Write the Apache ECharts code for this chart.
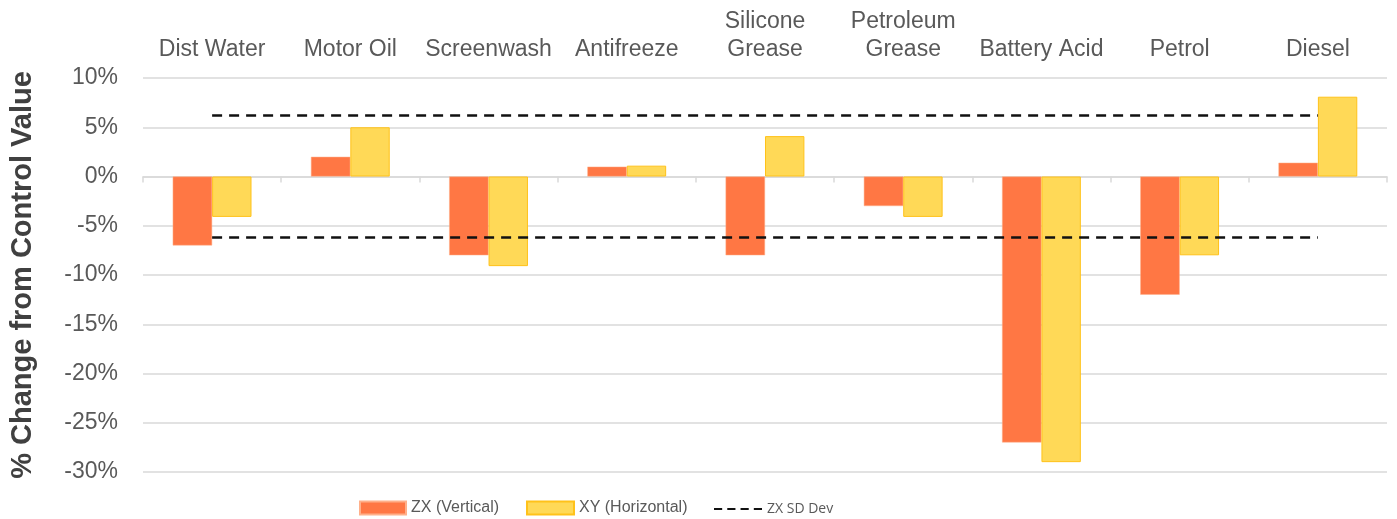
<!DOCTYPE html>
<html>
<head>
<meta charset="utf-8">
<script src="https://cdn.jsdelivr.net/npm/echarts@6/dist/echarts.min.js"></script>
<style>html,body{margin:0;padding:0;background:#fff}#c{width:1397px;height:519px}</style>
</head>
<body>
<div id="c"></div>
<script>
const categories = ['Dist Water', 'Motor Oil', 'Screenwash', 'Antifreeze', 'Silicone\nGrease', 'Petroleum\nGrease', 'Battery Acid', 'Petrol', 'Diesel'];
const zxVertical = [-7, 2, -8, 1, -8, -3, -27, -12, 1.4];
const xyHorizontal = [-4.1, 5, -9.1, 1.1, 4.1, -4.1, -29, -8, 8.1];
const sdUpper = [6.2, 6.2, 6.2, 6.2, 6.2, 6.2, 6.2, 6.2, 6.2];
const sdLower = [-6.2, -6.2, -6.2, -6.2, -6.2, -6.2, -6.2, -6.2, -6.2];
const yTicks = { min: -30, max: 10, interval: 5 };

const chart = echarts.init(document.getElementById('c'));
const FONT = 'Liberation Sans';
const lineStyle = { color: '#111', width: 2.5, type: [10, 7] };
const dashIcon = 'path://M0,0h8v2h-8z M13,0h8v2h-8z M26,0h8v2h-8z M39,0h8v2h-8z';
chart.setOption({
  animation: false,
  textStyle: { fontFamily: FONT },
  grid: { left: 142, right: 10, top: 78, bottom: 47 },
  legend: [
    { left: 354, top: 495, itemWidth: 46, itemHeight: 13, itemGap: 5, data: [{ name: 'ZX (Vertical)', icon: 'rect' }], textStyle: { fontSize: 16, color: '#595959', fontFamily: FONT } },
    { left: 521, top: 495, itemWidth: 47, itemHeight: 13, data: [{ name: 'XY (Horizontal)', icon: 'rect' }], textStyle: { fontSize: 16, color: '#595959', fontFamily: FONT } },
    { left: 709, top: 497, itemWidth: 48, itemHeight: 3, data: [{ name: 'ZX SD Dev', icon: dashIcon }],
      itemStyle: { color: '#111', borderWidth: 0 }, lineStyle: { width: 0 },
      textStyle: { fontSize: 14, color: '#595959', fontFamily: 'Open Sans' } }
  ],
  xAxis: [
    { type: 'category', data: categories, position: 'top', axisLine: { show: false, onZero: false }, axisTick: { show: false },
      axisLabel: { fontSize: 23, color: '#595959', margin: 14, lineHeight: 28, interval: 0 } },
    { type: 'category', data: categories, position: 'bottom',
      axisLine: { onZero: false, lineStyle: { color: '#d9d9d9', width: 1.5 } },
      axisTick: { show: true, length: 6, lineStyle: { color: '#d9d9d9', width: 1.5 } }, axisLabel: { show: false } }
  ],
  yAxis: {
    type: 'value', min: yTicks.min, max: yTicks.max, interval: yTicks.interval,
    name: '% Change from Control Value', nameLocation: 'middle', nameGap: 106,
    nameTextStyle: { fontSize: 29, fontWeight: 'bold', color: '#404040', fontFamily: FONT },
    axisLabel: { formatter: '{value}%', fontSize: 23, color: '#595959', margin: 25 },
    axisLine: { show: false }, axisTick: { show: false },
    splitLine: { lineStyle: { color: '#d9d9d9', width: 1.5 } }
  },
  series: [
    { name: 'ZX (Vertical)', type: 'bar', xAxisIndex: 0, data: zxVertical, barWidth: '28.5%', barGap: '0%',
      itemStyle: { color: '#FF7744', borderColor: '#FFB08A', borderWidth: 0.5 } },
    { name: 'XY (Horizontal)', type: 'bar', xAxisIndex: 0, data: xyHorizontal, barWidth: '28.5%', barGap: '0%',
      itemStyle: { color: '#FFD957', borderColor: '#FFC21A', borderWidth: 1 } },
    { name: 'ZX SD Dev', type: 'line', xAxisIndex: 0, data: sdUpper, symbol: 'none', lineStyle: lineStyle, itemStyle: { color: '#111' }, z: 5 },
    { name: 'ZX SD Dev', type: 'line', xAxisIndex: 0, data: sdLower, symbol: 'none', lineStyle: lineStyle, itemStyle: { color: '#111' }, z: 5 }
  ]
});
// move the tick axis up to the zero value, using the library's own y scale
const zeroY = chart.convertToPixel({ yAxisIndex: 0 }, 0);
const minY = chart.convertToPixel({ yAxisIndex: 0 }, yTicks.min);
chart.setOption({ xAxis: [{}, { offset: zeroY - minY }] });
</script>
</body>
</html>
